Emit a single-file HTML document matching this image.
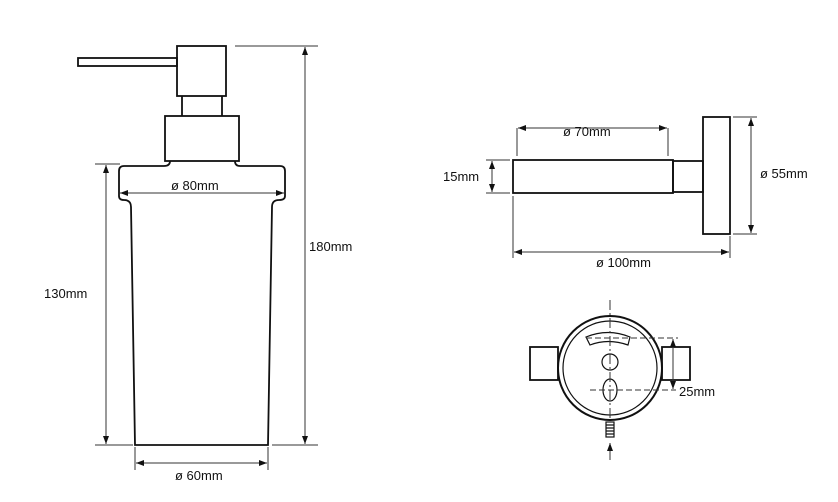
<!DOCTYPE html>
<html><head><style>body{margin:0;background:#fff}svg{display:block}text{font-family:"Liberation Sans",sans-serif;font-size:13px;fill:#111}</style></head><body>
<svg width="838" height="502" viewBox="0 0 838 502">
<defs>
<marker id="a" markerWidth="10" markerHeight="8" refX="8" refY="4" orient="auto" markerUnits="userSpaceOnUse"><path d="M0,1 L8,4 L0,7 Z" fill="#111"/></marker>
<marker id="s" markerWidth="10" markerHeight="8" refX="0" refY="4" orient="auto" markerUnits="userSpaceOnUse"><path d="M8,1 L0,4 L8,7 Z" fill="#111"/></marker>
</defs>
<g fill="none" stroke="#111" stroke-width="1.8">
<rect x="78" y="58" width="99" height="8"/>
<rect x="177" y="46" width="49" height="50"/>
<path d="M182 96V116M222 96V116"/>
<rect x="165" y="116" width="74" height="45"/>
<path d="M170 161 Q170 166 164 166 H124 Q119 166 119 171 V196 Q119 200 124 200 Q131 200 131 207 L135 445 H268 L272 207 Q272 200 279 200 Q285 200 285 196 V171 Q285 166 280 166 H240 Q235 166 235 161"/>
<rect x="513" y="160" width="160" height="33"/>
<rect x="673" y="161" width="30" height="31"/>
<rect x="703" y="117" width="27" height="117"/>
<rect x="530" y="347" width="28" height="33"/>
<rect x="662" y="347" width="28" height="33"/>
</g>
<circle cx="610" cy="368" r="52" fill="#fff" stroke="#111" stroke-width="2"/>
<circle cx="610" cy="368" r="47" fill="none" stroke="#111" stroke-width="1.2"/>
<g fill="none" stroke="#111" stroke-width="1.2">
<path d="M586 337 Q608 328 630 337 L628 345 Q608 338 590 345 Z"/>
<circle cx="610" cy="362" r="8"/>
<ellipse cx="610" cy="390" rx="7" ry="11"/>
<rect x="606" y="422" width="8" height="15"/>
<path d="M606 425H614M606 428H614M606 431H614M606 434H614"/>
</g>
<g stroke="#333" stroke-width="1" fill="none">
<path d="M610 300V420" stroke-dasharray="10 3 2 3"/>
<path d="M586 338H678M590 390H676" stroke-dasharray="6 3"/>
<path d="M235 46H318M272 445H318M95 164H120M95 445H133M135 447V470M268 447V470M517 128V156M668 128V156M486 160H510M486 193H510M733 117H757M733 234H757M513 196V258M730 236V258"/>
</g>
<g stroke="#333" stroke-width="1" marker-start="url(#s)" marker-end="url(#a)">
<line x1="305" y1="47" x2="305" y2="444"/>
<line x1="106" y1="165" x2="106" y2="444"/>
<line x1="120" y1="193" x2="284" y2="193"/>
<line x1="136" y1="463" x2="267" y2="463"/>
<line x1="518" y1="128" x2="667" y2="128"/>
<line x1="492" y1="161" x2="492" y2="192"/>
<line x1="751" y1="118" x2="751" y2="233"/>
<line x1="514" y1="252" x2="729" y2="252"/>
<line x1="673" y1="339" x2="673" y2="389"/>
</g>
<line x1="610" y1="460" x2="610" y2="443" stroke="#333" marker-end="url(#a)"/>
<text x="171" y="190">ø 80mm</text>
<text x="309" y="251">180mm</text>
<text x="44" y="298">130mm</text>
<text x="175" y="480">ø 60mm</text>
<text x="563" y="136">ø 70mm</text>
<text x="443" y="181">15mm</text>
<text x="760" y="178">ø 55mm</text>
<text x="596" y="267">ø 100mm</text>
<text x="679" y="396">25mm</text>
</svg>
</body></html>
